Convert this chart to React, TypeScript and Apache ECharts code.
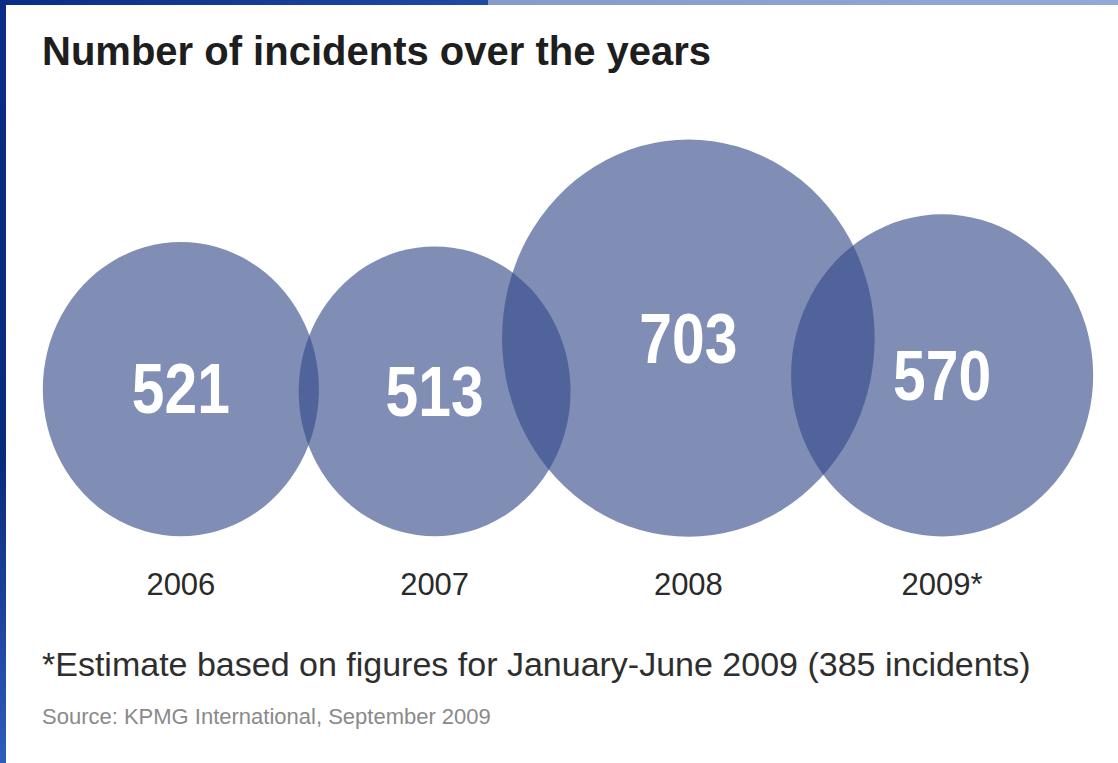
import React, { useEffect, useRef } from "react";
import * as echarts from "echarts";

const years = ["2006", "2007", "2008", "2009*"];
const incidents = [521, 513, 703, 570];
const titleText = "Number of incidents over the years";
const footnoteText = "*Estimate based on figures for January-June 2009 (385 incidents)";
const sourceText = "Source: KPMG International, September 2009";

export default function App() {
  const ref = useRef<HTMLDivElement>(null);
  useEffect(() => {
    if (!ref.current) return;
    const chart = echarts.init(ref.current, null, { renderer: "svg" });
    chart.setOption({
      animation: false,
      backgroundColor: "#ffffff",
      title: {
        text: titleText,
        left: 37,
        top: 26,
        textStyle: {
          fontFamily: "Liberation Sans",
          fontWeight: "bold",
          fontSize: 40,
          color: "#1e1e1e",
        },
      },
      grid: { left: 54, right: 49, top: 255, bottom: 228 },
      xAxis: {
        type: "category",
        data: years,
        axisLine: { show: false },
        axisTick: { show: false },
        axisLabel: {
          margin: 34,
          fontFamily: "Liberation Sans",
          fontSize: 31,
          color: "#2a2a2a",
        },
      },
      yAxis: {
        type: "value",
        min: 0,
        max: 1000,
        show: false,
        splitLine: { show: false },
      },
      series: [
        {
          type: "scatter",
          clip: false,
          symbol: "circle",
          symbolSize: (val: number[]) => [val[1] * 0.53, val[1] * 0.565],
          data: incidents.map((v, i) => [years[i], v]),
          itemStyle: { color: "rgb(50,73,137)", opacity: 0.62 },
          label: { show: false },
          emphasis: { disabled: true },
          z: 2,
        },
        {
          type: "custom",
          clip: false,
          data: incidents.map((v, i) => [i, v]),
          renderItem: (params: any, api: any) => {
            const pt = api.coord([api.value(0), api.value(1)]);
            return {
              type: "text",
              x: pt[0],
              y: pt[1],
              scaleX: 0.84,
              style: {
                text: String(api.value(1)),
                fontFamily: "Liberation Sans",
                fontWeight: "bold",
                fontSize: 70,
                fill: "#ffffff",
                align: "center",
                verticalAlign: "middle",
              },
            };
          },
          z: 3,
          silent: true,
        },
      ],
      graphic: [
        {
          type: "rect",
          shape: { x: 0, y: 0, width: 488, height: 5 },
          style: {
            fill: new echarts.graphic.LinearGradient(0, 0, 1, 0, [
              { offset: 0, color: "#0b2c86" },
              { offset: 1, color: "#1f4aa6" },
            ]),
          },
          silent: true,
        },
        {
          type: "rect",
          shape: { x: 488, y: 0, width: 630, height: 5 },
          style: {
            fill: new echarts.graphic.LinearGradient(0, 0, 1, 0, [
              { offset: 0, color: "#879bca" },
              { offset: 1, color: "#93a8d6" },
            ]),
          },
          silent: true,
        },
        {
          type: "rect",
          shape: { x: 0, y: 0, width: 6, height: 763 },
          style: {
            fill: new echarts.graphic.LinearGradient(0, 0, 0, 1, [
              { offset: 0, color: "#0b2c86" },
              { offset: 0.6, color: "#0a2a7c" },
              { offset: 1, color: "#2d5cbd" },
            ]),
          },
          silent: true,
        },
        {
          type: "text",
          left: 42,
          top: 647,
          style: {
            text: footnoteText,
            fontFamily: "Liberation Sans",
            fontSize: 34,
            fill: "#2e2e2e",
          },
          silent: true,
        },
        {
          type: "text",
          left: 42,
          top: 705,
          style: {
            text: sourceText,
            fontFamily: "Liberation Sans",
            fontSize: 22,
            fill: "#8a8a8a",
          },
          silent: true,
        },
      ],
    });
    return () => chart.dispose();
  }, []);
  return (
    <div
      ref={ref}
      style={{ position: "fixed", left: 0, top: 0, width: 1118, height: 763 }}
    />
  );
}
